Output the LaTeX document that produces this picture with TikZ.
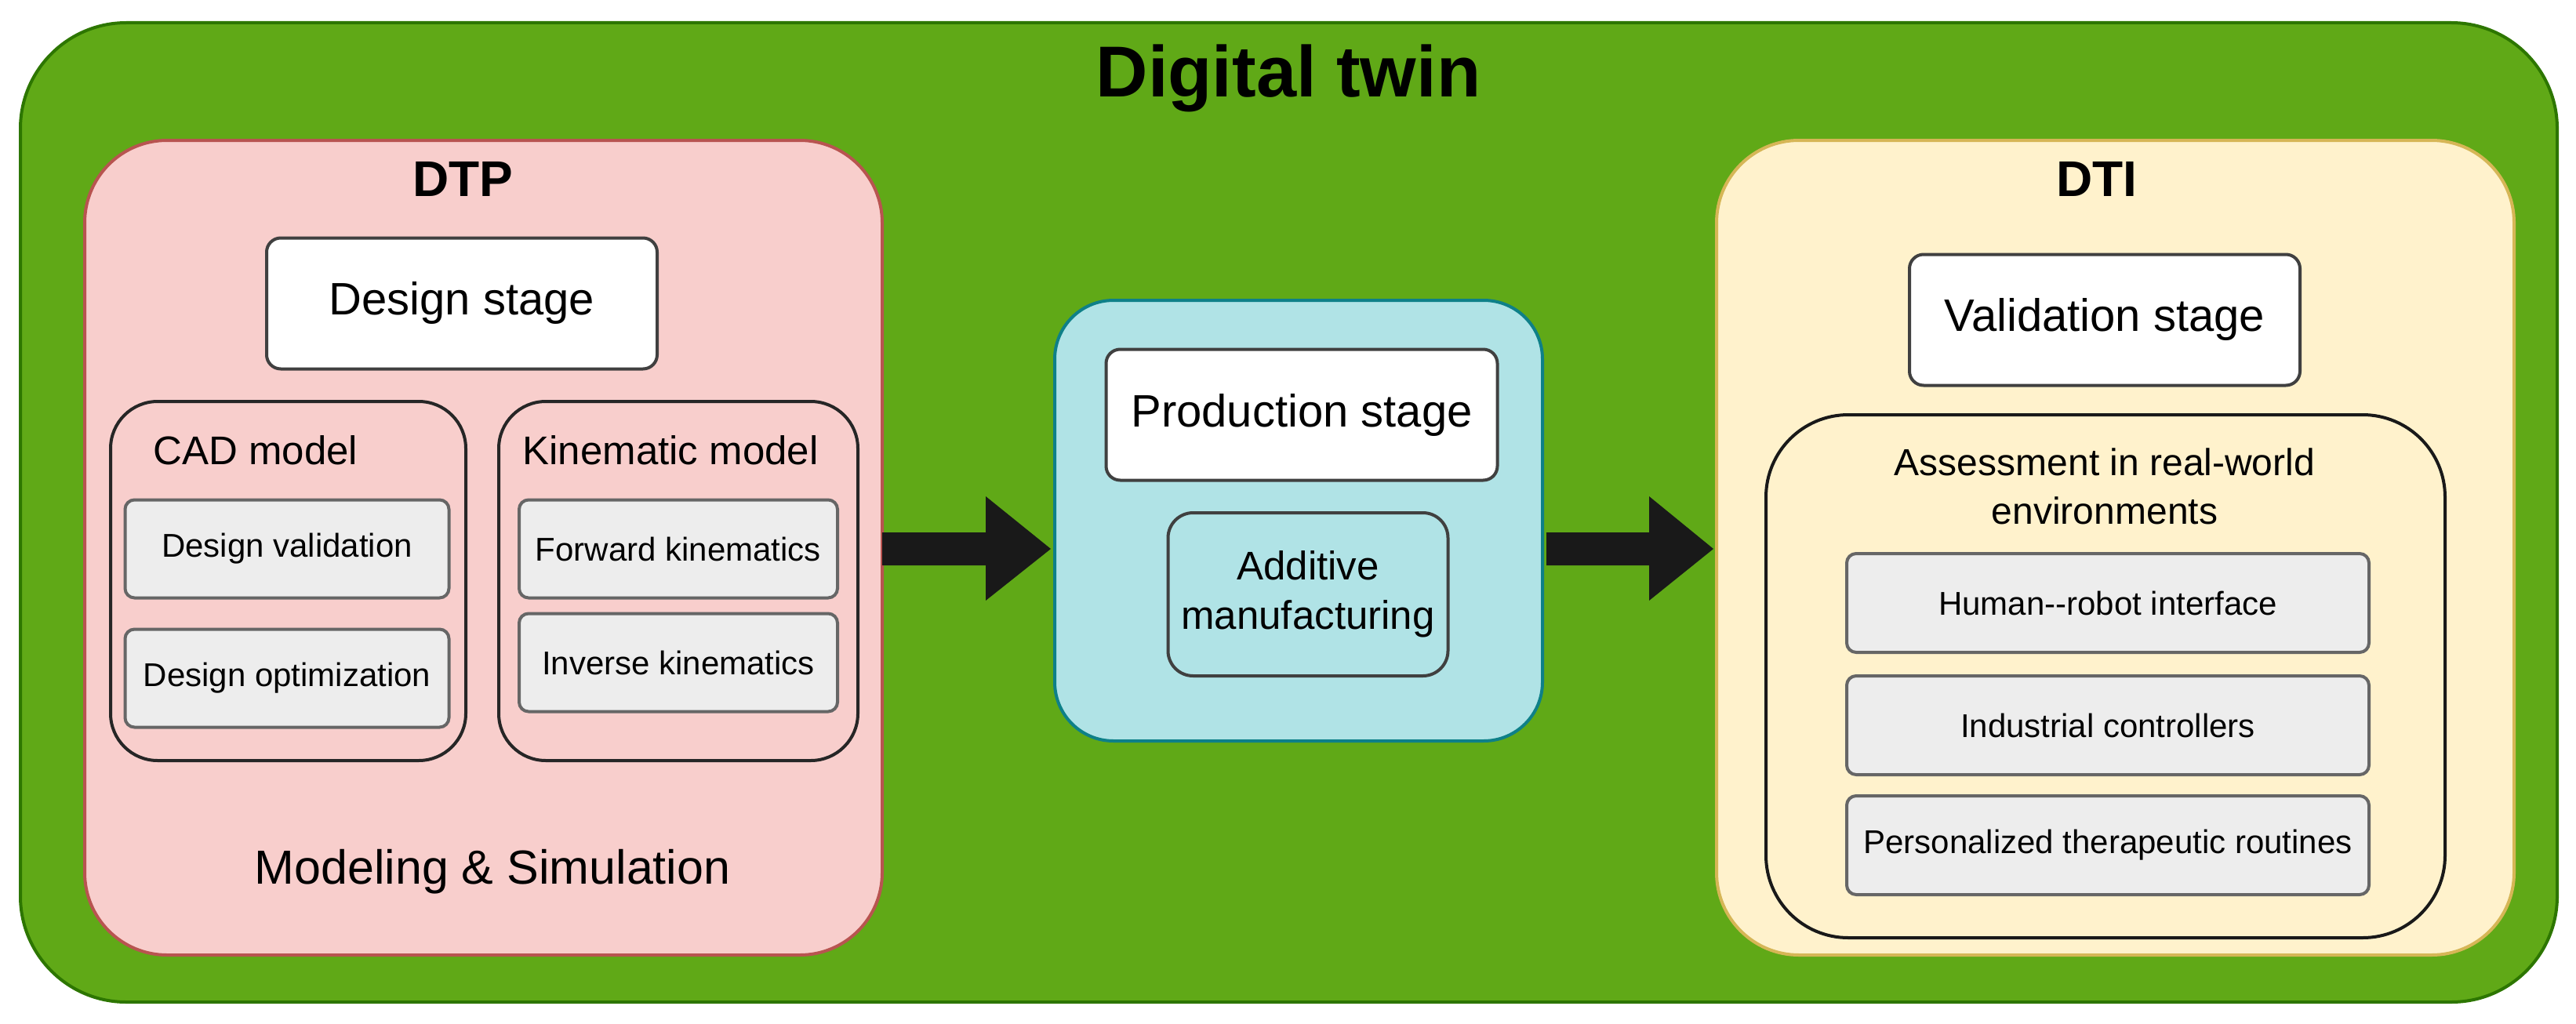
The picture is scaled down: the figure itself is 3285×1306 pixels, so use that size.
\documentclass[tikz,border=0pt]{standalone}
\usepackage{fontspec}
\setmainfont{Liberation Sans}
\begin{document}
\begin{tikzpicture}[x=1pt,y=-1pt,
  sub/.style={draw=black!75, fill=white, line width=4pt, rounded corners=18pt, align=center},
  gray/.style={draw=black!60, fill=black!7, line width=4pt, rounded corners=12pt, align=center, font=\fontsize{42}{50}\selectfont},
  mid/.style={font=\fontsize{51}{60}\selectfont},
  fat/.style={fill=black!90, draw=none}]
\useasboundingbox (0,0) rectangle (3285,1306);
\definecolor{grn}{HTML}{60A917}\definecolor{grnd}{HTML}{2D7600}
\definecolor{pnk}{HTML}{F8CECC}\definecolor{pnkd}{HTML}{B85450}
\definecolor{cyn}{HTML}{B0E3E6}\definecolor{cynd}{HTML}{0E8088}
\definecolor{ylw}{HTML}{FFF2CC}\definecolor{ylwd}{HTML}{D6B656}
% outer
\draw[fill=grn, draw=grnd, line width=4pt, rounded corners=135pt] (26,29) rectangle (3261,1278);
\node[font=\fontsize{92}{104}\selectfont\bfseries] (dt) at (1643,100) {Digital twin};
% DTP
\draw[fill=pnk, draw=pnkd, line width=4pt, rounded corners=105pt] (108,179) rectangle (1125,1218);
\node[font=\fontsize{64}{74}\selectfont\bfseries] (dtp) at (590,228) {DTP};
\node[sub, minimum width=498pt, minimum height=167pt, font=\fontsize{58}{68}\selectfont] (ds) at (589,387) {Design stage};
\draw[line width=4pt, rounded corners=60pt, draw=black!85] (141,512) rectangle (594,970);
\node[mid] (cad) at (326,574) {CAD model};
\node[gray, minimum width=413pt, minimum height=125pt] (dv) at (366,700) {Design validation};
\node[gray, minimum width=413pt, minimum height=125pt] (do) at (366,865) {Design optimization};
\draw[line width=4pt, rounded corners=60pt, draw=black!85] (636,512) rectangle (1094,970);
\node[mid] (km) at (855,574) {Kinematic model};
\node[gray, minimum width=406pt, minimum height=125pt] (fk) at (865,700) {Forward kinematics};
\node[gray, minimum width=406pt, minimum height=125pt] (ik) at (865,845) {Inverse kinematics};
\node[font=\fontsize{61}{72}\selectfont] (ms) at (628,1112) {Modeling \& Simulation};
% arrow 1
\fill[fat] (1125,679) -- (1257,679) -- (1257,633) -- (1340,700) -- (1257,766) -- (1257,721) -- (1125,721) -- cycle;
% production
\draw[fill=cyn, draw=cynd, line width=4pt, rounded corners=75pt] (1345,383) rectangle (1967,945);
\node[sub, minimum width=499pt, minimum height=167pt, font=\fontsize{58}{68}\selectfont] (ps) at (1660,529) {Production stage};
\node[sub, fill=cyn, minimum width=357pt, minimum height=208pt, rounded corners=32pt, font=\fontsize{51}{63}\selectfont] (am) at (1668,758) {Additive\\manufacturing};
% arrow 2
\fill[fat] (1972,679) -- (2103,679) -- (2103,633) -- (2185,700) -- (2103,766) -- (2103,721) -- (1972,721) -- cycle;
% DTI
\draw[fill=ylw, draw=ylwd, line width=4pt, rounded corners=105pt] (2189,179) rectangle (3206,1218);
\node[font=\fontsize{64}{74}\selectfont\bfseries] (dti) at (2674,228) {DTI};
\node[sub, minimum width=498pt, minimum height=167pt, font=\fontsize{58}{68}\selectfont] (vs) at (2684,408) {Validation stage};
\draw[line width=4pt, rounded corners=105pt, draw=black!90] (2252,529) rectangle (3118,1196);
\node[align=center, font=\fontsize{48}{62}\selectfont] (as) at (2684,620) {Assessment in real-world\\environments};
\node[gray, minimum width=666pt, minimum height=126pt] (hr) at (2688,769) {Human-{}-robot interface};
\node[gray, minimum width=666pt, minimum height=126pt] (ic) at (2688,925) {Industrial controllers};
\node[gray, minimum width=666pt, minimum height=126pt] (pt) at (2688,1078) {Personalized therapeutic routines};
\end{tikzpicture}
\end{document}
